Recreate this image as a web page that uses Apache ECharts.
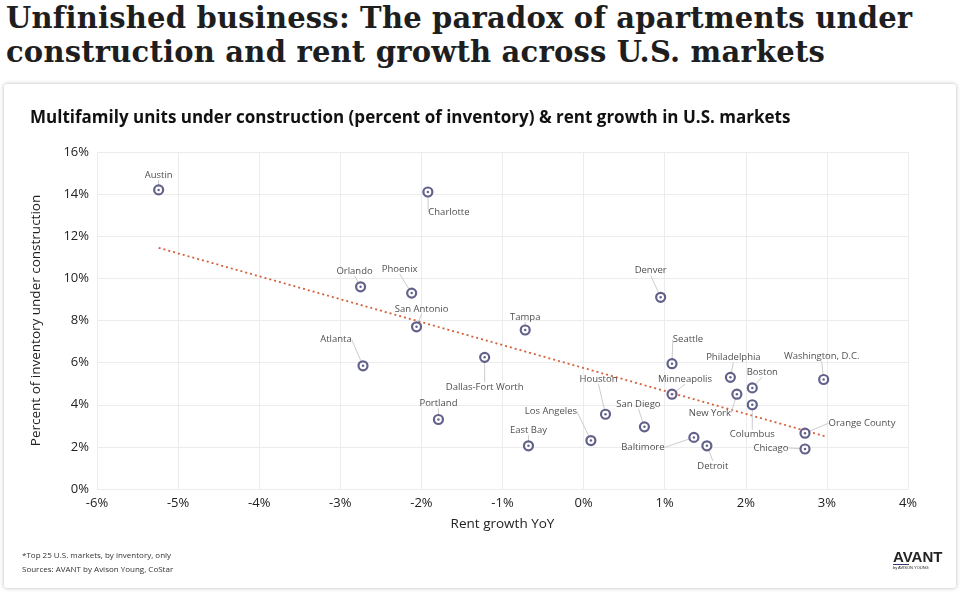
<!DOCTYPE html>
<html><head><meta charset="utf-8">
<script src="https://cdn.jsdelivr.net/npm/echarts@6/dist/echarts.min.js"></script>
<style>
body{margin:0;width:960px;height:592px;background:#fff;font-family:"Open Sans",sans-serif;overflow:hidden;position:relative}
#t{position:absolute;left:6px;top:1px;font-family:"DejaVu Serif",serif;font-weight:bold;font-size:29px;line-height:34px;color:#1e1e1e;letter-spacing:0.2px}
#card{position:absolute;left:4px;top:84px;width:952px;height:504px;background:#fff;box-shadow:0 0 4px #bbb;border-radius:3px}
#c{position:absolute;left:0;top:0;width:960px;height:592px}
#f{position:absolute;left:22px;top:548px;font-size:8px;line-height:14px;color:#333}
#logo{position:absolute;left:893px;top:549px;font-size:15px;font-weight:bold;color:#222;font-family:"Liberation Sans Narrow","Liberation Sans",sans-serif;line-height:15px}
#logo small{display:block;font-size:4px;font-weight:normal;line-height:6px;border-top:1px solid #3b3a6e;width:16px;white-space:nowrap}
</style></head><body>
<div id="t">Unfinished business: The paradox of apartments under<br>construction and rent growth across U.S. markets</div>
<div id="card"></div>
<div id="c"></div>
<div id="f">*Top 25 U.S. markets, by inventory, only<br>Sources: AVANT by Avison Young, CoStar</div>
<div id="logo">AVANT<small>by AVISON YOUNG</small></div>
<script>
const markets=["Austin","Charlotte","Orlando","Phoenix","San Antonio","Atlanta","Dallas-Fort Worth","Tampa","Portland","East Bay","Los Angeles","Houston","San Diego","Denver","Seattle","Minneapolis","Philadelphia","Boston","New York","Columbus","Baltimore","Detroit","Washington, D.C.","Orange County","Chicago"];
const rentGrowth=[-5.24,-1.92,-2.75,-2.12,-2.06,-2.72,-1.22,-0.72,-1.79,-0.68,0.09,0.27,0.75,0.95,1.09,1.09,1.81,2.08,1.89,2.08,1.36,1.52,2.96,2.73,2.73];
const underConstruction=[14.2,14.1,9.6,9.3,7.7,5.85,6.25,7.55,3.3,2.05,2.3,3.55,2.95,9.1,5.95,4.5,5.3,4.8,4.5,4.0,2.45,2.05,5.2,2.65,1.9];
const trendX=[-5.24,2.98];
const trendY=[11.45,2.5];
const labelOffsets=[[0,-15],[21,20],[-6,-16],[-12,-24],[5,-18],[-27,-26],[0,30],[0,-13],[0,-16],[0,-16],[-40,-29],[-7,-35],[-6,-23],[-10,-27],[16,-24],[13,-15],[3,-20],[10,-16],[-27,19],[0,30],[-51,10],[6,20],[-2,-23],[57,-10],[-34,-1]];
const ch=echarts.init(document.getElementById('c'));
const pts=rentGrowth.map((x,i)=>[x,underConstruction[i],markets[i]]);
ch.setOption({
  animation:false,
  title:{text:'Multifamily units under construction (percent of inventory) & rent growth in U.S. markets',left:25,top:105,textStyle:{fontFamily:'Open Sans',fontSize:17,fontWeight:'bold',color:'#111'}},
  grid:{left:97,right:52,top:152,bottom:103},
  xAxis:{type:'value',min:-6,max:4,interval:1,name:'Rent growth YoY',nameLocation:'middle',nameGap:28,nameTextStyle:{fontSize:13.5,color:'#222',fontFamily:'Open Sans'},
    axisLabel:{formatter:v=>v+'%',fontSize:13,color:'#222',fontFamily:'Open Sans'},axisLine:{show:false},axisTick:{show:false},splitLine:{lineStyle:{color:'#ececec'}}},
  yAxis:{type:'value',min:0,max:16,interval:2,name:'Percent of inventory under construction',nameLocation:'middle',nameGap:54,nameTextStyle:{fontSize:13.5,color:'#222',fontFamily:'Open Sans'},
    axisLabel:{formatter:v=>v+'%',fontSize:13,color:'#222',fontFamily:'Open Sans'},axisLine:{show:false},axisTick:{show:false},splitLine:{lineStyle:{color:'#ececec'}}},
  series:[
    {type:'line',data:trendX.map((x,i)=>[x,trendY[i]]),symbol:'none',lineStyle:{color:'#d4603c',type:[2,3],width:1.8},z:1},
    {type:'scatter',data:pts,symbol:'circle',symbolSize:9,
     itemStyle:{color:'#fff',borderColor:'#3b3a6e',borderWidth:2.2},
     label:{show:true,formatter:p=>p.value[2],fontSize:9.5,color:'#222',fontFamily:'Open Sans',position:'inside'},
     labelLine:{show:true,lineStyle:{color:'#ccc',width:1}},
     labelLayout:p=>({dx:labelOffsets[p.dataIndex][0],dy:labelOffsets[p.dataIndex][1]}),z:3},
    {type:'scatter',data:pts,symbol:'circle',symbolSize:2.5,itemStyle:{color:'#3b3a6e'},silent:true,z:4}
  ]
});
</script></body></html>
